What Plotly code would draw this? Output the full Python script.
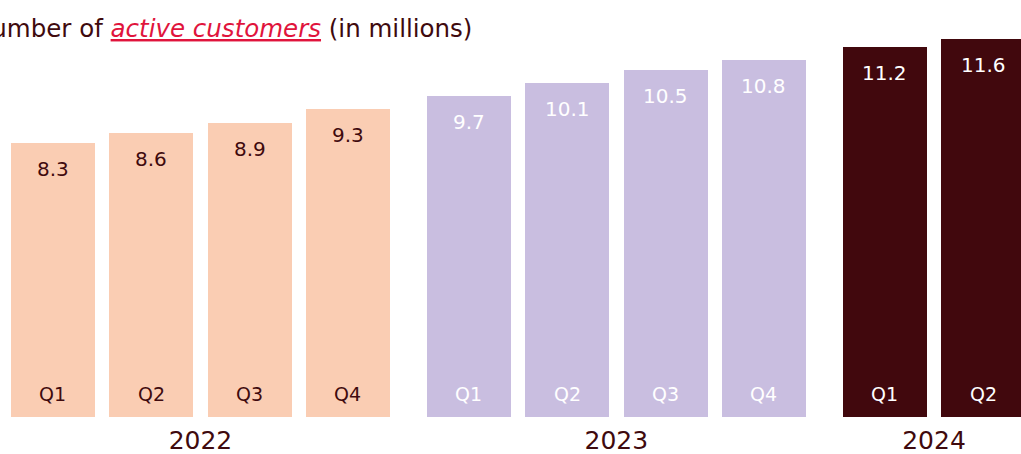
import plotly.graph_objects as go

# data
years = ["2022", "2023", "2024"]
quarters = ["Q1", "Q2", "Q3", "Q4", "Q1", "Q2", "Q3", "Q4", "Q1", "Q2"]
year_of_bar = ["2022"] * 4 + ["2023"] * 4 + ["2024"] * 2
active_customers = [8.3, 8.6, 8.9, 9.3, 9.7, 10.1, 10.5, 10.8, 11.2, 11.6]

# styles
FONT = "DejaVu Sans"
DARK = "#3F0A0E"
RED = "#E0143C"
BAR_COLORS = {"2022": "#FACDB3", "2023": "#C9BEE0", "2024": "#41080D"}
TEXT_COLORS = {"2022": DARK, "2023": "#FFFFFF", "2024": "#FFFFFF"}
GROUP_GAP = 0.231
W, H = 1021, 454
T, B = 39, 37
Y_MAX = (H - T - B) / 33.07

x_pos = []
for i, y in enumerate(year_of_bar):
    x_pos.append(i + years.index(y) * GROUP_GAP)

fig = go.Figure()
fig.add_trace(go.Bar(
    x=x_pos,
    y=active_customers,
    width=0.855,
    marker=dict(color=[BAR_COLORS[y] for y in year_of_bar], line_width=0),
    hoverinfo="skip",
))

for x, q, y, v in zip(x_pos, quarters, year_of_bar, active_customers):
    col = TEXT_COLORS[y]
    fig.add_annotation(
        x=x, y=min(v, Y_MAX), text=str(v), showarrow=False,
        yshift=-26, yanchor="middle",
        font=dict(family=FONT, size=20, color=col),
    )
    fig.add_annotation(
        x=x, y=0, text=q, showarrow=False,
        yshift=23, yanchor="middle",
        font=dict(family=FONT, size=19, color=col),
    )

# year ticks at group centres
tick_vals = []
for y in years:
    xs = [x for x, yy in zip(x_pos, year_of_bar) if yy == y]
    tick_vals.append(sum(xs) / len(xs))

# title, cut off on the left like the source
fig.add_annotation(
    x=474 / W, y=(H - B - 28) / (H - T - B), xref="paper", yref="paper",
    text=(
        "Number of <span style='color:" + RED + "'><i><u>active customers</u></i></span>"
        " (in millions)"
    ),
    showarrow=False, xanchor="right", yanchor="middle",
    font=dict(family=FONT, size=24.5, color=DARK),
)

fig.update_layout(
    width=W, height=H,
    margin=dict(l=0, r=0, t=T, b=B),
    plot_bgcolor="white", paper_bgcolor="white",
    showlegend=False,
    bargap=0,
    xaxis=dict(
        range=[-0.539, 9.847], tickvals=tick_vals, ticktext=years,
        showgrid=False, zeroline=False, showline=False, ticks="",
        tickfont=dict(family=FONT, size=25, color=DARK),
        ticklabelstandoff=6, automargin=False,
    ),
    yaxis=dict(range=[0, Y_MAX], visible=False, automargin=False),
)

fig.write_html(
    "out.html",
    config={"displayModeBar": False},
    post_script="document.body.style.margin='0';",
)
